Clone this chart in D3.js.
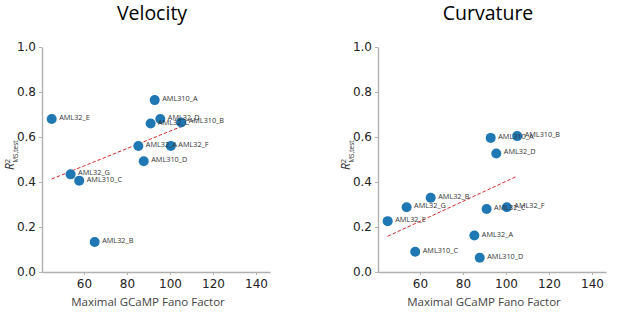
<!DOCTYPE html>
<html>
<head>
<meta charset="utf-8">
<script src="https://cdn.jsdelivr.net/npm/d3@7"></script>
<style>
  body { margin: 0; background: #fff; }
  svg { display: block; }
</style>
</head>
<body>
<div id="chart"></div>
<script>
// animals, shared x (fano factor)
const animals = ["AML32_E", "AML310_A", "AML32_D", "AML32_C", "AML310_B", "AML32_A",
                 "AML32_F", "AML310_D", "AML32_G", "AML310_C", "AML32_B"];
const fano = [45, 92.9, 95.5, 91, 105.2, 85.3, 100.4, 87.8, 53.8, 57.8, 65];
const velocityR2 = [0.68, 0.764, 0.68, 0.66, 0.665, 0.56, 0.56, 0.492, 0.434, 0.406, 0.133];
const curvatureR2 = [0.226, 0.596, 0.527, 0.28, 0.604, 0.162, 0.288, 0.063, 0.288, 0.09, 0.33];
const xTicks = [60, 80, 100, 120, 140];
const yTicks = [0.0, 0.2, 0.4, 0.6, 0.8, 1.0];

const width = 617, height = 314;
const svg = d3.select("#chart").append("svg")
    .attr("width", width)
    .attr("height", height);

function panel(title, values, left) {
    const x = d3.scaleLinear().domain([40.5, 146.5]).range([left, left + 228]);
    const y = d3.scaleLinear().domain([0, 1]).range([272, 47]);
    const g = svg.append("g");

    // title
    g.append("text")
        .attr("x", left + 110).attr("y", 20)
        .attr("text-anchor", "middle")
        .style("font-family", "Open Sans").style("font-size", "19.5px")
        .text(title);

    // axes
    const xa = g.append("g")
        .attr("transform", `translate(0,${y(0)})`)
        .call(d3.axisBottom(x).tickValues(xTicks).tickSize(3).tickPadding(4).tickSizeOuter(0));
    const ya = g.append("g")
        .attr("transform", `translate(${left},0)`)
        .call(d3.axisLeft(y).tickValues(yTicks).tickFormat(d3.format(".1f")).tickSize(3).tickPadding(3).tickSizeOuter(0));
    [xa, ya].forEach(a => {
        a.select(".domain").attr("stroke", "#b0b0b0").attr("stroke-width", 1.4);
        a.selectAll(".tick line").attr("stroke", "#b0b0b0");
        a.selectAll(".tick text")
            .style("font-family", "DejaVu Sans").style("font-size", "12px").attr("fill", "#222");
    });

    // axis labels
    g.append("text")
        .attr("x", left + 106).attr("y", 306)
        .attr("text-anchor", "middle")
        .style("font-family", "Open Sans").style("font-size", "11.5px").attr("fill", "#444")
        .text("Maximal GCaMP Fano Factor");

    const yl = g.append("text")
        .attr("transform", `translate(${left - 28},170) rotate(-90)`)
        .style("font-family", "Open Sans").style("font-size", "12px").attr("fill", "#333");
    yl.append("tspan").style("font-style", "italic").text("R");
    yl.append("tspan").attr("dy", -4).style("font-size", "7.5px").text("2");
    yl.append("tspan").attr("dx", -4).attr("dy", 7.5).style("font-size", "6.5px").text("MS,test");

    // regression line
    const pts = fano.map((f, i) => [f, values[i]]);
    const mx = d3.mean(fano), my = d3.mean(values);
    const slope = d3.sum(pts, p => (p[0] - mx) * (p[1] - my)) / d3.sum(pts, p => (p[0] - mx) ** 2);
    const [x0, x1] = d3.extent(fano);
    g.append("line")
        .attr("x1", x(x0)).attr("y1", y(my + slope * (x0 - mx)))
        .attr("x2", x(x1)).attr("y2", y(my + slope * (x1 - mx)))
        .attr("stroke", "#d62728").attr("stroke-width", 1)
        .attr("stroke-dasharray", "3.5,2");

    // points
    g.selectAll(".dot")
        .data(pts)
        .enter()
        .append("circle")
        .attr("class", "dot")
        .attr("cx", d => x(d[0]))
        .attr("cy", d => y(d[1]))
        .attr("r", 5)
        .attr("fill", "#1f77b4");

    g.selectAll(".lbl")
        .data(pts)
        .enter()
        .append("text")
        .attr("class", "lbl")
        .attr("x", d => x(d[0]) + 7.5)
        .attr("y", d => y(d[1]) + 1)
        .style("font-family", "Open Sans").style("font-size", "7.3px").attr("fill", "#333")
        .text((d, i) => animals[i]);
}

panel("Velocity", velocityR2, 42);
panel("Curvature", curvatureR2, 378);
</script>
</body>
</html>
